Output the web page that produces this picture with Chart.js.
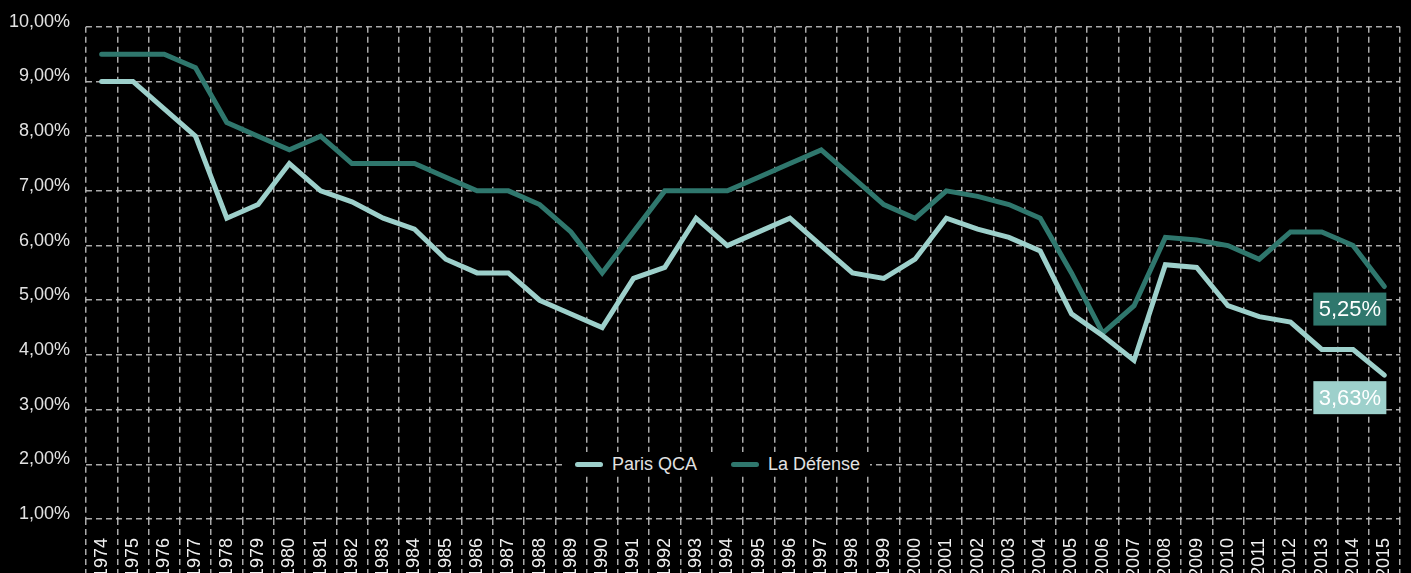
<!DOCTYPE html>
<html lang="fr">
<head>
<meta charset="utf-8">
<title>Taux de rendement prime</title>
<script src="https://cdn.jsdelivr.net/npm/chart.js@4/dist/chart.umd.min.js"></script>
<style>
  html, body { margin: 0; padding: 0; background: #000; overflow: hidden; }
  #wrap { position: relative; width: 1411px; height: 573px; }
  #legend {
    position: absolute; left: 566px; top: 452px; height: 24px;
    background: #000; display: flex; align-items: center; padding: 0 10px 0 9px;
    font: 18px "Liberation Sans", Arial, sans-serif; color: #e2e2e2;
  }
  .item { display: flex; align-items: center; margin-right: 34px; }
  .item:last-child { margin-right: 0; }
  .swatch { width: 28px; height: 5px; border-radius: 3px; margin-right: 9px; }
</style>
</head>
<body>
<div id="wrap">
  <canvas id="yieldChart" width="1411" height="573"></canvas>
  <div id="legend"></div>
</div>
<script>
const years = [];
for (let y = 1974; y <= 2015; y++) years.push(String(y));

const parisQCA = [
  9.00, 9.00, 8.50, 8.00, 6.50, 6.75, 7.50, 7.00, 6.80, 6.50,
  6.30, 5.75, 5.50, 5.50, 5.00, 4.75, 4.50, 5.40, 5.60, 6.50,
  6.00, 6.25, 6.50, 6.00, 5.50, 5.40, 5.75, 6.50, 6.30, 6.15,
  5.90, 4.75, 4.35, 3.90, 5.65, 5.60, 4.90, 4.70, 4.60, 4.10,
  4.10, 3.63
];
const laDefense = [
  9.50, 9.50, 9.50, 9.25, 8.25, 8.00, 7.75, 8.00, 7.50, 7.50,
  7.50, 7.25, 7.00, 7.00, 6.75, 6.25, 5.50, 6.25, 7.00, 7.00,
  7.00, 7.25, 7.50, 7.75, 7.25, 6.75, 6.50, 7.00, 6.90, 6.75,
  6.50, 5.50, 4.40, 4.90, 6.15, 6.10, 6.00, 5.75, 6.25, 6.25,
  6.00, 5.25
];
const seriesNames = ['Paris QCA', 'La Défense'];
const seriesColors = ['#9dd0cb', '#2f776d'];

const yMin = 1, yMax = 10, yStep = 1;

const fmt = v => v.toFixed(2).replace('.', ',') + '%';
const font = '"Liberation Sans", Arial, sans-serif';
const gridColor = 'rgba(200,200,200,0.85)';

// boxed value label under the last point of each line
const endLabels = {
  id: 'endLabels',
  afterDatasetsDraw(chart) {
    const ctx = chart.ctx;
    chart.data.datasets.forEach((ds, i) => {
      const meta = chart.getDatasetMeta(i);
      const last = meta.data[meta.data.length - 1];
      const w = 73, h = 33;
      const x = last.x + 2 - w;
      const y = last.y + 6;
      ctx.save();
      ctx.fillStyle = ds.borderColor;
      ctx.fillRect(x, y, w, h);
      ctx.fillStyle = '#ffffff';
      ctx.font = '22px ' + font;
      ctx.textAlign = 'center';
      ctx.textBaseline = 'middle';
      ctx.fillText(fmt(ds.data[ds.data.length - 1]), x + w / 2, y + h / 2 + 1);
      ctx.restore();
    });
  }
};

const chart = new Chart(document.getElementById('yieldChart'), {
  type: 'line',
  data: {
    labels: years,
    datasets: [
      { label: seriesNames[0], data: parisQCA, borderColor: seriesColors[0] },
      { label: seriesNames[1], data: laDefense, borderColor: seriesColors[1] }
    ]
  },
  options: {
    responsive: false,
    animation: false,
    layout: { padding: { top: 25, right: 11, left: 0, bottom: 0 } },
    elements: {
      line: { borderWidth: 5, tension: 0, borderCapStyle: 'round' },
      point: { radius: 0 }
    },
    plugins: {
      legend: { display: false },
      tooltip: { enabled: false }
    },
    scales: {
      x: {
        offset: true,
        afterFit(scale) { scale.height = 54; },
        grid: {
          offset: true,
          color: gridColor,
          lineWidth: 1.5,
          drawTicks: true,
          tickLength: 54,
          tickColor: gridColor,
          tickWidth: 1.5,
          tickBorderDash: [6, 4]
        },
        border: { display: false, dash: [6, 4] },
        ticks: {
          color: '#f0f0f0',
          font: { family: font, size: 18 },
          minRotation: 90,
          maxRotation: 90,
          autoSkip: false,
          padding: -35
        }
      },
      y: {
        min: yMin,
        max: yMax,
        afterFit(scale) { scale.width = 86; },
        grid: { color: gridColor, lineWidth: 1.5, drawTicks: false },
        border: { display: false, dash: [6, 4] },
        ticks: {
          stepSize: yStep,
          color: '#e2e2e2',
          font: { family: font, size: 18 },
          padding: 16,
          labelOffset: -5,
          callback: v => fmt(v)
        }
      }
    }
  },
  plugins: [endLabels]
});

// legend built from the datasets
const legend = document.getElementById('legend');
chart.data.datasets.forEach(ds => {
  const item = document.createElement('div');
  item.className = 'item';
  const sw = document.createElement('span');
  sw.className = 'swatch';
  sw.style.background = ds.borderColor;
  const txt = document.createElement('span');
  txt.textContent = ds.label;
  item.appendChild(sw);
  item.appendChild(txt);
  legend.appendChild(item);
});
</script>
</body>
</html>
